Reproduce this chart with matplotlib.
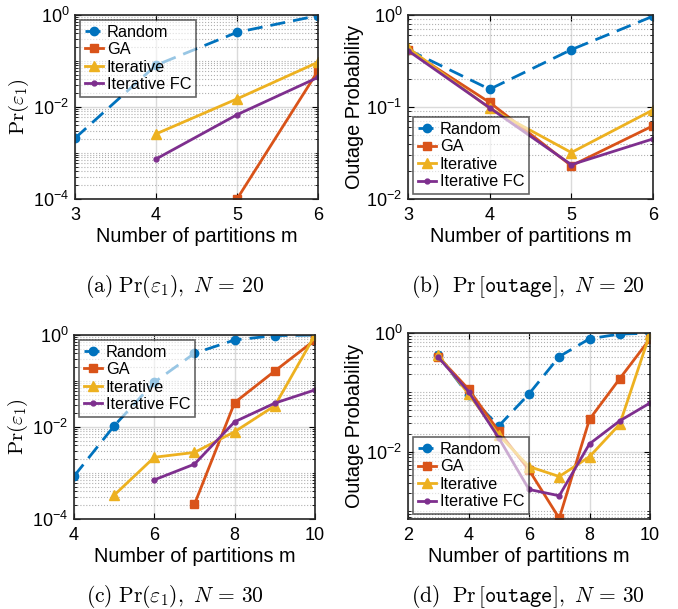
import numpy as np
import matplotlib
matplotlib.use('Agg')
import matplotlib.pyplot as plt
from matplotlib.ticker import LogLocator, FixedLocator, NullFormatter, LogFormatterSciNotation

plt.rcParams['font.family'] = ['Liberation Sans', 'DejaVu Sans']
plt.rcParams['mathtext.fontset'] = 'cm'

# MATLAB default colours
c_rand = '#0072BD'
c_ga = '#D95319'
c_iter = '#EDB120'
c_fc = '#7E2F8E'

# ---- data ----
# (a) Pr(eps1), N = 20
m_a = [3, 4, 5, 6]
rand_a = [2.1e-3, 0.081, 0.42, 0.97]
m_ga_a = [5, 6]
ga_a = [1.0e-4, 0.061]
m_it_a = [4, 5, 6]
iter_a = [2.6e-3, 0.015, 0.094]
fc_a = [7.4e-4, 6.8e-3, 0.044]

# (b) outage, N = 20
m_b = [3, 4, 5, 6]
rand_b = [0.42, 0.156, 0.42, 0.97]
ga_b = [0.42, 0.112, 0.023, 0.0625]
iter_b = [0.44, 0.097, 0.032, 0.093]
fc_b = [0.41, 0.098, 0.0236, 0.045]

# (c) Pr(eps1), N = 30
m_c = [4, 5, 6, 7, 8, 9, 10]
rand_c = [8.5e-4, 0.0106, 0.094, 0.40, 0.78, 0.97, 1.0]
m_ga_c = [7, 8, 9, 10]
ga_c = [2.1e-4, 0.034, 0.165, 0.78]
m_it_c = [5, 6, 7, 8, 9, 10]
iter_c = [3.3e-4, 2.2e-3, 2.8e-3, 7.9e-3, 0.029, 1.0]
m_fc_c = [6, 7, 8, 9, 10]
fc_c = [7.1e-4, 1.56e-3, 0.013, 0.033, 0.064]

# (d) outage, N = 30
m_d = [3, 4, 5, 6, 7, 8, 9, 10]
rand_d = [0.42, 0.09, 0.027, 0.094, 0.40, 0.80, 0.96, 0.99]
ga_d = [0.40, 0.113, 0.022, 4.9e-3, 7.5e-4, 0.035, 0.17, 0.80]
iter_d = [0.42, 0.094, 0.019, 5.6e-3, 3.8e-3, 8.2e-3, 0.029, 0.98]
fc_d = [0.39, 0.103, 0.017, 2.3e-3, 1.8e-3, 0.0135, 0.033, 0.066]

labels = ['Random', 'GA', 'Iterative', 'Iterative FC']
captions = [r'$\mathrm{(a)\ Pr}(\varepsilon_1),\ N\,=\,20$',
            r'$\mathrm{(b)\ \ Pr}\,[\mathtt{outage}],\ N\,=\,20$',
            r'$\mathrm{(c)\ Pr}(\varepsilon_1),\ N\,=\,30$',
            r'$\mathrm{(d)\ \ Pr}\,[\mathtt{outage}],\ N\,=\,30$']

fig = plt.figure(figsize=(6.78, 6.09), dpi=100)
W, H = 678.0, 609.0


def make_ax(l, t, r, b):
    return fig.add_axes([l / W, 1 - b / H, (r - l) / W, (b - t) / H])


def style(ax, xlim, xticks, ylim, yticks):
    ax.set_yscale('log')
    ax.set_xlim(xlim)
    ax.set_ylim(ylim)
    ax.set_xticks(xticks)
    ax.yaxis.set_major_locator(FixedLocator(yticks))
    ax.yaxis.set_major_formatter(LogFormatterSciNotation())
    ax.yaxis.set_minor_locator(LogLocator(base=10, subs=np.arange(1, 10), numticks=50))
    ax.yaxis.set_minor_formatter(NullFormatter())
    ax.grid(True, which='major', color='#dadada', linewidth=1.0, linestyle='-')
    ax.grid(True, which='minor', axis='y', color='#b0b0b0', linewidth=0.8, linestyle=':')
    ax.set_axisbelow(True)
    ax.tick_params(which='both', direction='in', top=True, right=True, labelsize=13)
    ax.tick_params(which='major', length=4, pad=6)
    ax.tick_params(axis='y', which='major', pad=4)
    ax.tick_params(which='minor', length=2.5)
    for s in ax.spines.values():
        s.set_linewidth(1.2)
        s.set_color('#262626')
    ax.set_xlabel('Number of partitions m', fontsize=14.3, labelpad=2)


def draw(ax, xs, ys):
    (xr, yr), (xg, yg), (xi, yi), (xf, yf) = zip(xs, ys)
    ax.plot(xr, yr, marker='o', color=c_rand, lw=2, ms=6, linestyle='--',
            dashes=(5.4, 2.9), label=labels[0])
    ax.plot(xg, yg, marker='s', color=c_ga, lw=2, ms=5.5, linestyle='-', label=labels[1])
    ax.plot(xi, yi, marker='^', color=c_iter, lw=2, ms=7, linestyle='-', label=labels[2])
    ax.plot(xf, yf, marker='.', color=c_fc, lw=2, ms=7, linestyle='-', label=labels[3])


def legend(ax, loc):
    lg = ax.legend(loc=loc, fontsize=11.7, handlelength=1.15, handletextpad=0.2,
                   labelspacing=0.15, borderpad=0.3, borderaxespad=0.3,
                   fancybox=False, framealpha=0.6, edgecolor='black')
    lg.get_frame().set_linewidth(1.2)


# (a)
ax = make_ax(75, 15, 318, 199)
draw(ax, [m_a, m_ga_a, m_it_a, m_it_a], [rand_a, ga_a, iter_a, fc_a])
style(ax, (3, 6), [3, 4, 5, 6], (1e-4, 1), [1e-4, 1e-2, 1])
ax.set_ylabel(r'$\mathrm{Pr}(\varepsilon_1)$', fontsize=15, labelpad=2)
legend(ax, 'upper left')

# (b)
ax = make_ax(408, 15, 653, 199)
draw(ax, [m_b] * 4, [rand_b, ga_b, iter_b, fc_b])
style(ax, (3, 6), [3, 4, 5, 6], (1e-2, 1), [1e-2, 1e-1, 1])
ax.set_ylabel('Outage Probability', fontsize=14.3, labelpad=2)
legend(ax, 'lower left')

# (c)
ax = make_ax(74, 335, 315, 519)
draw(ax, [m_c, m_ga_c, m_it_c, m_fc_c], [rand_c, ga_c, iter_c, fc_c])
style(ax, (4, 10), [4, 6, 8, 10], (1e-4, 1), [1e-4, 1e-2, 1])
ax.set_ylabel(r'$\mathrm{Pr}(\varepsilon_1)$', fontsize=15, labelpad=2)
legend(ax, 'upper left')

# (d)
ax = make_ax(408, 333, 650, 519)
draw(ax, [m_d] * 4, [rand_d, ga_d, iter_d, fc_d])
style(ax, (2, 10), [2, 4, 6, 8, 10], (7.3e-4, 1), [1e-2, 1])
ax.set_ylabel('Outage Probability', fontsize=14.3, labelpad=2)
legend(ax, 'lower left')

# sub-captions
fig.text(175 / W, 1 - 287 / H, captions[0], ha='center', va='center', fontsize=15.5)
fig.text(528 / W, 1 - 287 / H, captions[1], ha='center', va='center', fontsize=15.5)
fig.text(175 / W, 1 - 597 / H, captions[2], ha='center', va='center', fontsize=15.5)
fig.text(528 / W, 1 - 597 / H, captions[3], ha='center', va='center', fontsize=15.5)

fig.savefig('out.png', dpi=100, facecolor='white')
